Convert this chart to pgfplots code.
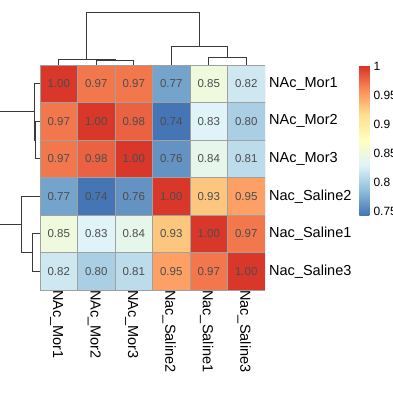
\documentclass[border=0pt]{standalone}
\usepackage{pgfplots}
\pgfplotsset{compat=1.18}
\usepackage{pgfplotstable}
\usepackage{fontspec}
\setmainfont{Liberation Sans}
\definecolor{dendro}{HTML}{3A3A3A}
\definecolor{cellborder}{HTML}{A0A0A0}
\definecolor{numtext}{HTML}{4D4D4D}
\newcommand{\cbf}{\fontsize{12}{14}\selectfont}
\pgfplotstableread{
x y v
0 0 1.00
1 0 0.97
2 0 0.97
3 0 0.77
4 0 0.85
5 0 0.82
0 1 0.97
1 1 1.00
2 1 0.98
3 1 0.74
4 1 0.83
5 1 0.80
0 2 0.97
1 2 0.98
2 2 1.00
3 2 0.76
4 2 0.84
5 2 0.81
0 3 0.77
1 3 0.74
2 3 0.76
3 3 1.00
4 3 0.93
5 3 0.95
0 4 0.85
1 4 0.83
2 4 0.84
3 4 0.93
4 4 1.00
5 4 0.97
0 5 0.82
1 5 0.80
2 5 0.81
3 5 0.95
4 5 0.97
5 5 1.00
}\heat
\begin{document}
\begin{tikzpicture}
\useasboundingbox (0,0) rectangle (393pt,-393pt);
% heatmap
\begin{axis}[
  at={(40pt,-65pt)}, anchor=north west,
  scale only axis, width=225pt, height=225pt,
  xmin=-0.5, xmax=5.5, ymin=-0.5, ymax=5.5,
  y dir=reverse, enlargelimits=false,
  axis line style={draw=none}, major tick length=0pt,
  xtick={0,1,2,3,4,5}, ytick={0,1,2,3,4,5},
  xticklabels={NAc\_Mor1,NAc\_Mor2,NAc\_Mor3,Nac\_Saline2,Nac\_Saline1,Nac\_Saline3},
  yticklabels={NAc\_Mor1,NAc\_Mor2,NAc\_Mor3,Nac\_Saline2,Nac\_Saline1,Nac\_Saline3},
  xticklabel pos=bottom, yticklabel pos=right,
  xticklabel style={rotate=-90, anchor=west, inner sep=0pt, yshift=-2pt, font=\fontsize{14.5}{17}\selectfont},
  yticklabel style={anchor=west, inner sep=0pt, xshift=4pt, font=\fontsize{14.5}{17}\selectfont},
  colormap={rdylbu}{rgb255=(69,117,180) rgb255=(145,191,219) rgb255=(224,243,248) rgb255=(255,255,191) rgb255=(254,224,144) rgb255=(252,141,89) rgb255=(215,48,39)},
  point meta min=0.743, point meta max=1.003,
  colorbar right,
  colorbar style={
    at={(1.4191,1)}, anchor=north west,
    scale only axis, width=10pt, height=150pt,
    ytick={0.75,0.8,0.85,0.9,0.95,1},
    yticklabels={{\cbf 0.75},{\cbf 0.8},{\cbf 0.85},{\cbf 0.9},{\cbf 0.95},{\cbf 1}},
    axis line style={draw=none}, major tick length=0pt,
    yticklabel style={anchor=west, inner sep=0pt, xshift=4pt},
  },
]
\addplot[matrix plot*, mesh/cols=6, point meta=explicit, draw=cellborder, line width=0.9pt] table[x=x, y=y, meta=v] {\heat};
\addplot[draw=none, mark=none, nodes near coords, nodes near coords align=center,
  point meta=explicit symbolic,
  every node near coord/.append style={anchor=center, text=numtext, font=\fontsize{11.5}{13}\selectfont}]
  table[x=x, y=y, meta=v] {\heat};
\end{axis}
% top dendrogram
\begin{axis}[
  at={(40pt,-65pt)}, anchor=south west,
  scale only axis, width=225pt, height=53pt,
  xmin=-0.5, xmax=5.5, ymin=0, ymax=53,
  hide axis, clip=false,
]
\addplot[dendro, line width=0.9pt] coordinates {(1,0) (1,4.3) (2,4.3) (2,0)};
\addplot[dendro, line width=0.9pt] coordinates {(0,0) (0,5.7) (1.5,5.7) (1.5,4.3)};
\addplot[dendro, line width=0.9pt] coordinates {(4,0) (4,7.5) (5,7.5) (5,0)};
\addplot[dendro, line width=0.9pt] coordinates {(3,0) (3,18.4) (4.5,18.4) (4.5,7.5)};
\addplot[dendro, line width=0.9pt] coordinates {(0.75,5.7) (0.75,52.7) (3.75,52.7) (3.75,18.4)};
\end{axis}
% left dendrogram
\begin{axis}[
  at={(40pt,-65pt)}, anchor=north east,
  scale only axis, width=53pt, height=225pt,
  xmin=0, xmax=53, x dir=reverse,
  ymin=-0.5, ymax=5.5, y dir=reverse,
  hide axis, clip=false,
]
\addplot[dendro, line width=0.9pt] coordinates {(0,1) (4.3,1) (4.3,2) (0,2)};
\addplot[dendro, line width=0.9pt] coordinates {(0,0) (5.7,0) (5.7,1.5) (4.3,1.5)};
\addplot[dendro, line width=0.9pt] coordinates {(0,4) (7.5,4) (7.5,5) (0,5)};
\addplot[dendro, line width=0.9pt] coordinates {(0,3) (18.4,3) (18.4,4.5) (7.5,4.5)};
\addplot[dendro, line width=0.9pt] coordinates {(5.7,0.75) (52.7,0.75) (52.7,3.75) (18.4,3.75)};
\end{axis}
\end{tikzpicture}
\end{document}
